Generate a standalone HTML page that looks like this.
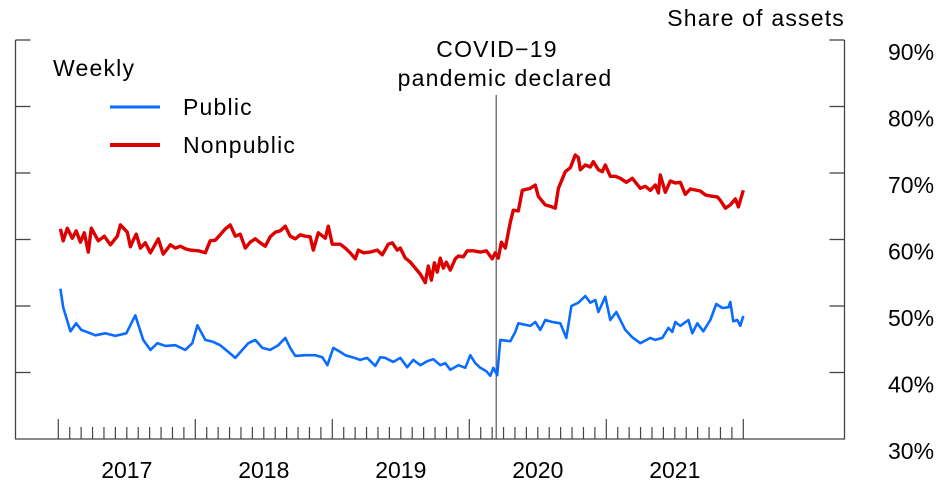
<!DOCTYPE html>
<html><head><meta charset="utf-8"><style>
html,body{margin:0;padding:0;background:#fff;}
svg{display:block;font-family:"Liberation Sans",Arial,sans-serif;}
.w{letter-spacing:1.2px;}
</style></head><body>
<svg id="chart" width="950" height="489" viewBox="0 0 950 489" xmlns="http://www.w3.org/2000/svg">
<g id="axes"></g>
<g id="series"></g>
<text class="w" x="845" y="26" font-size="23" text-anchor="end" fill="#000">Share of assets</text>
<text class="w" x="53" y="76" font-size="23" fill="#000">Weekly</text>
<line x1="110" y1="107" x2="160" y2="107" stroke="#0a6cff" stroke-width="3"/>
<text class="w" x="183" y="115" font-size="23" fill="#000">Public</text>
<line x1="110" y1="145" x2="160" y2="145" stroke="#dd0000" stroke-width="4"/>
<text class="w" x="183" y="153" font-size="23" fill="#000">Nonpublic</text>
<text class="w" x="497" y="57" font-size="23" text-anchor="middle" fill="#000">COVID−19</text>
<text class="w" x="505" y="86" font-size="23" text-anchor="middle" fill="#000">pandemic declared</text>
</svg>
<script>
const yTicks=[30,40,50,60,70,80,90];
const yearLabels=["2017","2018","2019","2020","2021"];
const covidDate=3.2;
const pubT=[0.015,0.036,0.088,0.131,0.168,0.234,0.270,0.343,0.416,0.496,0.562,0.620,0.672,0.723,0.781,0.854,0.927,0.978,1.015,1.073,1.131,1.182,1.241,1.292,1.343,1.387,1.438,1.489,1.547,1.606,1.657,1.693,1.730,1.803,1.876,1.927,1.964,2.007,2.058,2.095,2.146,2.204,2.255,2.314,2.350,2.387,2.445,2.496,2.547,2.591,2.642,2.693,2.737,2.788,2.825,2.861,2.920,2.971,3.007,3.044,3.080,3.124,3.153,3.175,3.204,3.226,3.299,3.336,3.358,3.445,3.482,3.518,3.555,3.606,3.664,3.708,3.745,3.796,3.847,3.883,3.920,3.942,3.993,4.029,4.073,4.139,4.190,4.248,4.321,4.358,4.409,4.453,4.482,4.504,4.540,4.599,4.628,4.664,4.708,4.759,4.803,4.847,4.891,4.905,4.927,4.956,4.978,5.000];
const pubV=[52.6,49.8,46.2,47.4,46.4,45.9,45.6,45.9,45.5,45.9,48.6,44.9,43.4,44.4,44.0,44.1,43.4,44.4,47.1,44.9,44.6,44.1,43.1,42.2,43.4,44.4,44.9,43.7,43.4,44.1,45.2,43.7,42.5,42.6,42.6,42.3,41.1,43.7,43.1,42.6,42.3,41.9,42.2,41.0,42.3,42.2,41.6,42.2,40.8,41.9,41.1,41.7,42.0,41.1,41.4,40.4,41.1,40.7,42.6,41.4,40.7,40.2,39.5,40.7,39.6,44.9,44.7,46.1,47.4,47.0,47.6,46.4,47.9,47.6,47.4,45.2,50.0,50.5,51.5,50.5,50.9,49.1,51.4,47.9,49.1,46.4,45.3,44.4,45.2,44.9,45.2,46.7,46.1,47.6,47.0,47.9,45.9,47.4,46.2,47.9,50.3,49.7,49.8,50.6,47.7,47.9,47.0,48.5];
const nonT=[0.015,0.036,0.066,0.102,0.131,0.161,0.190,0.219,0.241,0.292,0.336,0.380,0.431,0.453,0.504,0.526,0.547,0.569,0.599,0.635,0.672,0.708,0.730,0.766,0.818,0.854,0.891,0.927,0.964,1.022,1.073,1.109,1.146,1.182,1.219,1.255,1.292,1.328,1.365,1.401,1.438,1.474,1.511,1.547,1.584,1.620,1.657,1.693,1.730,1.766,1.803,1.839,1.861,1.898,1.949,1.971,2.000,2.058,2.095,2.131,2.168,2.190,2.226,2.277,2.328,2.365,2.409,2.438,2.474,2.496,2.533,2.569,2.606,2.642,2.679,2.701,2.723,2.745,2.766,2.788,2.810,2.832,2.861,2.898,2.920,2.956,2.985,3.029,3.080,3.124,3.168,3.190,3.212,3.234,3.263,3.299,3.321,3.358,3.387,3.445,3.482,3.504,3.555,3.591,3.628,3.650,3.701,3.737,3.774,3.796,3.810,3.847,3.883,3.905,3.942,3.971,3.993,4.029,4.066,4.102,4.146,4.190,4.248,4.285,4.321,4.358,4.380,4.394,4.431,4.467,4.504,4.540,4.577,4.613,4.686,4.723,4.774,4.810,4.832,4.869,4.905,4.942,4.964,5.000];
const nonV=[61.6,59.8,61.7,60.2,61.3,59.6,61.0,58.1,61.7,59.8,60.5,59.2,60.5,62.2,61.1,58.9,59.9,60.8,58.7,59.5,58.0,59.3,60.1,57.8,59.2,58.7,59.0,58.6,58.4,58.3,58.0,59.8,59.9,60.7,61.6,62.2,60.5,60.8,58.7,59.6,60.1,59.5,59.0,60.4,61.1,61.3,62.0,60.5,60.1,60.7,60.5,60.4,58.4,61.0,60.2,62.0,59.3,59.3,58.7,58.0,57.1,58.4,58.0,58.1,58.4,57.7,59.3,59.5,58.4,58.7,57.2,56.6,55.7,54.8,53.5,56.0,53.9,56.5,55.1,57.2,55.7,56.6,55.4,57.1,57.5,57.4,58.3,58.3,58.1,58.3,57.1,58.0,57.2,59.6,58.7,62.6,64.4,64.3,67.4,67.7,68.2,66.5,65.2,65.0,64.7,67.7,70.2,70.8,72.7,72.3,70.5,71.2,70.9,71.7,70.5,70.2,71.2,69.5,69.5,69.2,68.6,69.2,67.7,68.0,67.4,68.2,67.0,69.7,67.1,68.8,68.5,68.6,66.8,67.6,67.3,66.7,66.5,66.4,65.9,64.7,65.2,66.1,64.9,67.4];

const L=15.5,R=844.5,T=40,B=439;
const x0=58.3,pxYear=137;
function xs(t){return x0+t*pxYear;}
function ys(v){return B-(v-30)*(B-T)/60;}
const NS="http://www.w3.org/2000/svg";
function mk(tag,attrs,parent){const e=document.createElementNS(NS,tag);for(const k in attrs)e.setAttribute(k,attrs[k]);parent.appendChild(e);return e;}
const axes=document.getElementById('axes');
const frame=mk('path',{d:`M${L},${T} L${L},${B} L${R},${B} L${R},${T}`,fill:'none',stroke:'#444','stroke-width':1.3},axes);


yTicks.forEach(v=>{
  const y=ys(v);
  if(v>30){
    const tr=mk('line',{x1:R-15,x2:R,y1:y,y2:y,stroke:'#444','stroke-width':1.3},axes);
    
    
    const tl=mk('line',{x1:L,x2:L+15,y1:y,y2:y,stroke:'#444','stroke-width':1.3},axes);
    
    
  }
  const lb=mk('text',{x:888,y:y+20,'font-size':23,fill:'#000'},axes);
  lb.textContent=v+'%';
  
  
});
for(let m=0;m<=yearLabels.length*12;m++){
  const x=xs(m/12),major=m%12===0;
  const t=mk('line',{x1:x,x2:x,y1:major?419:427,y2:B,stroke:'#444','stroke-width':1.2},axes);
  
  
}
yearLabels.forEach((yl,i)=>{
  const t=mk('text',{x:xs(i+0.5),y:478,'font-size':23,'text-anchor':'middle',fill:'#000'},axes);
  t.textContent=yl;
  
  
});
const cl=mk('line',{x1:xs(covidDate)-0.5,x2:xs(covidDate)-0.5,y1:95,y2:B,stroke:'#555','stroke-width':1.2},axes);


const series=document.getElementById('series');
function line(ts,vs,color,w,name){
  const d=ts.map((t,i)=>(i?'L':'M')+xs(t).toFixed(1)+','+ys(vs[i]).toFixed(1)).join(' ');
  const p=mk('path',{d:d,fill:'none',stroke:color,'stroke-width':w,'stroke-linejoin':'round'},series);
  
  
}
line(pubT,pubV,'#0a6cff',2.6,'public-line');
line(nonT,nonV,'#dd0000',3.4,'nonpublic-line');
</script>
</body></html>
